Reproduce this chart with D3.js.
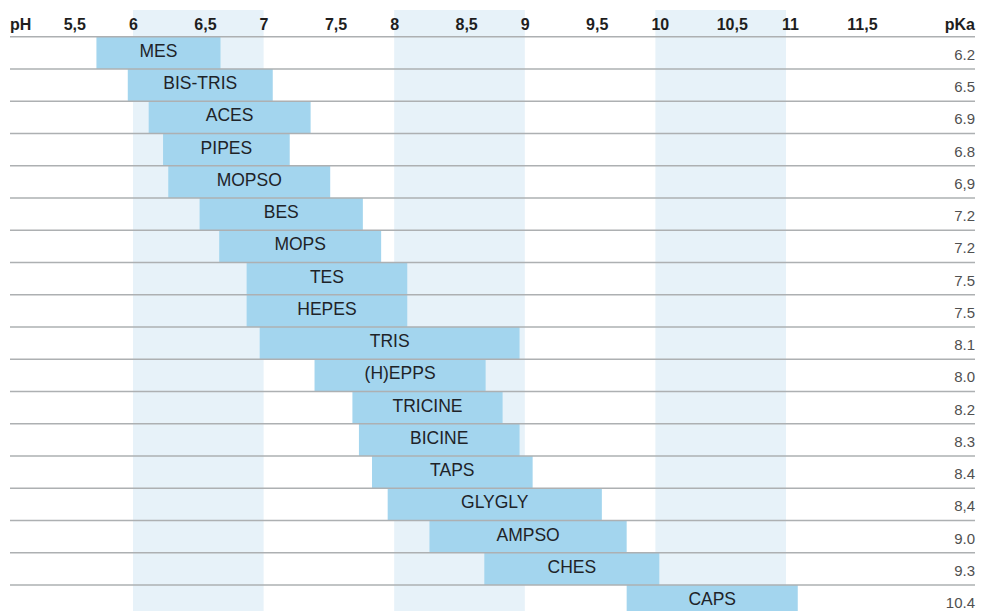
<!DOCTYPE html>
<html lang="en">

<head>
    <meta charset="UTF-8">
    <title>Buffer pH ranges</title>
    <script src="https://d3js.org/d3.v7.min.js"></script>
    <style>
        html,
        body {
            margin: 0;
            padding: 0;
            overflow: hidden;
            background: #ffffff;
            font-family: "Liberation Sans", Arial, sans-serif;
        }

        #chart {
            display: block;
        }
    </style>
</head>

<body>
    <svg id="chart" width="983" height="611"></svg>

    <script>
        // buffers, top to bottom
        const buffers = ["MES", "BIS-TRIS", "ACES", "PIPES", "MOPSO", "BES", "MOPS", "TES", "HEPES", "TRIS",
            "(H)EPPS", "TRICINE", "BICINE", "TAPS", "GLYGLY", "AMPSO", "CHES", "CAPS"];
        // useful pH range, low and high end
        const range_low = [5.72, 5.96, 6.12, 6.23, 6.27, 6.51, 6.66, 6.87, 6.87, 6.97,
            7.39, 7.68, 7.73, 7.83, 7.95, 8.27, 8.69, 9.78];
        const range_high = [6.67, 7.07, 7.36, 7.20, 7.51, 7.76, 7.90, 8.10, 8.10, 8.96,
            8.70, 8.83, 8.96, 9.06, 9.59, 9.78, 10.03, 11.09];
        // pKa column, written as in the source (mixed decimal marks)
        const pka_labels = ["6.2", "6.5", "6.9", "6.8", "6,9", "7.2", "7.2", "7.5", "7.5", "8.1",
            "8.0", "8.2", "8.3", "8.4", "8,4", "9.0", "9.3", "10.4"];
        const ph_ticks = [5.5, 6, 6.5, 7, 7.5, 8, 8.5, 9, 9.5, 10, 10.5, 11, 11.5];
        const shaded_bands = [[6, 7], [8, 9], [10, 11]];

        const width = 983, height = 611;
        const left = 10, right = 975;
        const svg = d3.select("#chart");

        const x = d3.scaleLinear().domain([6, 11]).range([133, 786]);
        const y = d3.scaleBand().domain(buffers).range([36.7, 36.7 + 32.25 * buffers.length]).padding(0);

        const rows = buffers.map((name, i) => ({ name, lo: range_low[i], hi: range_high[i], pka: pka_labels[i] }));

        // light alternating pH bands
        svg.append("g")
            .selectAll("rect")
            .data(shaded_bands)
            .enter().append("rect")
            .attr("x", d => x(d[0]))
            .attr("width", d => x(d[1]) - x(d[0]))
            .attr("y", 10)
            .attr("height", height - 10)
            .attr("fill", "#e7f2f9");

        // range bars
        svg.append("g")
            .selectAll("rect")
            .data(rows)
            .enter().append("rect")
            .attr("x", d => x(d.lo))
            .attr("width", d => x(d.hi) - x(d.lo))
            .attr("y", d => y(d.name))
            .attr("height", y.bandwidth())
            .attr("fill", "#a3d5ee");

        // row separators (drawn over the bars)
        svg.append("g")
            .attr("stroke", "#adb0b2")
            .attr("stroke-width", 1.5)
            .selectAll("line")
            .data(rows)
            .enter().append("line")
            .attr("x1", left)
            .attr("x2", right)
            .attr("y1", d => y(d.name))
            .attr("y2", d => y(d.name));

        // bar labels
        svg.append("g")
            .selectAll("text")
            .data(rows)
            .enter().append("text")
            .attr("x", d => (x(d.lo) + x(d.hi)) / 2)
            .attr("y", d => y(d.name) + y.bandwidth() / 2 + 4)
            .attr("text-anchor", "middle")
            .attr("font-size", "17.5px")
            .attr("fill", "#1e2328")
            .text(d => d.name);

        // pKa values
        svg.append("g")
            .selectAll("text")
            .data(rows)
            .enter().append("text")
            .attr("x", right)
            .attr("y", d => y(d.name) + y.bandwidth() / 2 + 7)
            .attr("text-anchor", "end")
            .attr("font-size", "15px")
            .attr("fill", "#505050")
            .text(d => d.pka);

        // header
        const header = svg.append("g")
            .attr("font-size", "16px")
            .attr("font-weight", "bold")
            .attr("fill", "#1e1e1e");

        header.selectAll("text.tick")
            .data(ph_ticks)
            .enter().append("text")
            .attr("class", "tick")
            .attr("x", d => x(d) - 4)
            .attr("y", 30)
            .text(d => String(d).replace(".", ","));

        header.append("text")
            .attr("x", left)
            .attr("y", 30)
            .text("pH");

        header.append("text")
            .attr("x", right)
            .attr("y", 30)
            .attr("text-anchor", "end")
            .text("pKa");
    </script>
</body>

</html>
